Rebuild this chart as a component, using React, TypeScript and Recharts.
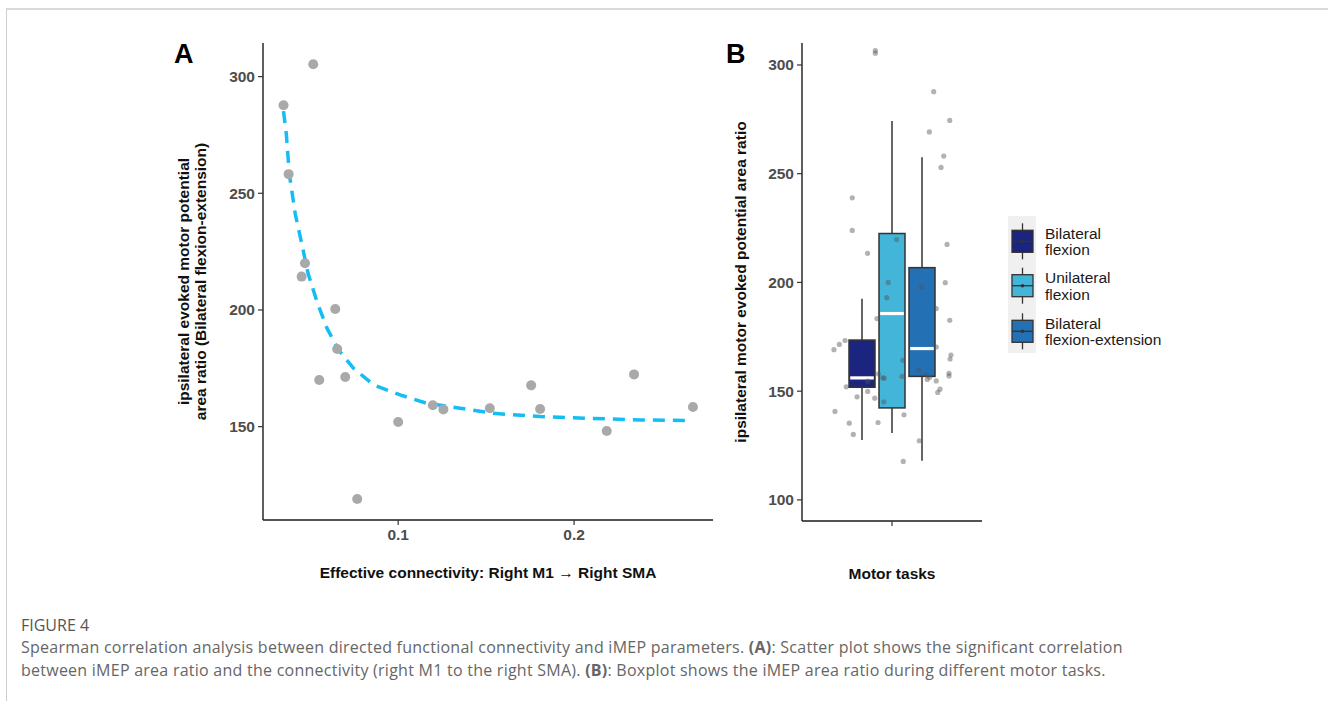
import React from 'react';
import { ScatterChart, ComposedChart, Scatter, Bar, XAxis, YAxis, Label } from 'recharts';

// panel A: connectivity vs iMEP area ratio (bilateral flexion-extension)
const connectivity = [0.0348, 0.0517, 0.0377, 0.047, 0.0451, 0.0642, 0.0653, 0.0551, 0.0699, 0.0767, 0.1, 0.1197, 0.1257, 0.1521, 0.1756, 0.1807, 0.2186, 0.2341, 0.2676];
const areaRatio = [287.7, 305.3, 258.2, 220.0, 214.3, 200.4, 183.3, 170.0, 171.3, 119.0, 152.0, 159.2, 157.4, 157.9, 167.7, 157.6, 148.1, 172.4, 158.4];

// fitted curve
const fitX = [0.0348, 0.0364, 0.0381, 0.0415, 0.0453, 0.0487, 0.0538, 0.0595, 0.0661, 0.0746, 0.086, 0.1011, 0.1163, 0.1352, 0.154, 0.1807, 0.2072, 0.2375, 0.267];
const fitY = [285.2, 275.2, 258.2, 241.0, 228.0, 215.8, 203.6, 192.2, 182.9, 175.0, 167.9, 163.6, 160.0, 157.9, 155.7, 154.3, 153.6, 152.9, 152.6];

const xTicksA = [0.1, 0.2];
const yTicksA = [150, 200, 250, 300];

// panel B: boxplots per motor task
const tasks = ['Bilateral flexion', 'Unilateral flexion', 'Bilateral flexion-extension'];
const taskLines = [['Bilateral', 'flexion'], ['Unilateral', 'flexion'], ['Bilateral', 'flexion-extension']];
const taskColors = ['#1b247e', '#43b5d9', '#2370b4'];
const whiskerLow = [127.5, 130.8, 118.0];
const q1 = [151.8, 142.3, 156.8];
const median = [156.1, 185.7, 169.6];
const q3 = [173.5, 222.5, 206.8];
const whiskerHigh = [192.5, 274.2, 257.6];

// jittered raw points (x in axis units, category centre = 1)
const jitterX = [0.889, 0.889, 1.278, 1.385, 1.249, 1.345, 1.327, 0.735, 0.735, 1.031, 1.367, 0.837, 0.975, 1.198, 1.355, 0.965, 1.295, 0.9, 1.385, 0.687, 0.649, 0.613, 1.295, 1.073, 1.393, 1.387, 0.909, 0.938, 0.949, 1.067, 1.178, 1.229, 1.235, 1.251, 1.295, 1.38, 1.38, 0.838, 0.695, 1.32, 1.305, 0.838, 0.767, 0.885, 0.945, 0.62, 1.08, 0.715, 0.907, 0.742, 1.182, 1.075];
const jitterY = [306.6, 305.4, 287.7, 274.5, 269.2, 258.1, 252.9, 238.9, 223.9, 219.7, 217.5, 213.4, 200.0, 198.0, 199.9, 193.0, 188.0, 183.4, 182.6, 173.3, 171.5, 169.1, 170.3, 164.2, 166.6, 164.8, 158.0, 156.1, 156.0, 156.8, 159.7, 157.5, 155.4, 156.4, 154.7, 158.2, 157.0, 154.6, 152.0, 150.9, 149.4, 149.9, 147.4, 146.8, 145.1, 140.7, 139.1, 135.3, 135.6, 130.1, 127.2, 117.7];

const yTicksB = [100, 150, 200, 250, 300];

const FONT = '"Liberation Sans", Arial, Helvetica, sans-serif';

const scatterData = connectivity.map((x, i) => ({ x, y: areaRatio[i] }));
const fitData = fitX.map((x, i) => ({ x, y: fitY[i] }));
const jitterData = jitterX.map((x, i) => ({ x, y: jitterY[i] }));
const boxRow: Record<string, any> = { task: 'Motor tasks' };
tasks.forEach((_, i) => {
  boxRow['r' + i] = [whiskerLow[i], whiskerHigh[i]];
});

const tickStyle = { fill: '#4d4d4d', fontSize: 15.5, fontWeight: 'bold', fontFamily: FONT };
const axisLine = { stroke: '#1a1a1a', strokeWidth: 1.4 };
const tickLine = { stroke: '#333', strokeWidth: 1.2 };

const makeBox = (i: number) => (props: any) => {
  const { x, y, width, height } = props;
  const top = Math.min(y, y + height);
  const h = Math.abs(height);
  const lo = whiskerLow[i];
  const hi = whiskerHigh[i];
  const py = (v: number) => top + ((hi - v) / (hi - lo)) * h;
  const cx = x + width / 2;
  return (
    <g>
      <line x1={cx} x2={cx} y1={py(hi)} y2={py(q3[i])} stroke="#333" strokeWidth={1.5} />
      <line x1={cx} x2={cx} y1={py(q1[i])} y2={py(lo)} stroke="#333" strokeWidth={1.5} />
      <rect x={x} y={py(q3[i])} width={width} height={py(q1[i]) - py(q3[i])} fill={taskColors[i]} stroke="#333" strokeWidth={1.5} />
      <line x1={x + 1.2} x2={x + width - 1.2} y1={py(median[i])} y2={py(median[i])} stroke="#fff" strokeWidth={3.2} />
    </g>
  );
};

// xs are in the chart's own svg coordinates
const rotatedTitle = (lines: string[], xs: number[]) => (props: any) => {
  const vb = props.viewBox;
  const cy = vb.y + vb.height / 2;
  return (
    <g>
      {lines.map((t, k) => (
        <text key={k} x={xs[k]} y={cy} transform={`rotate(-90 ${xs[k]} ${cy})`} textAnchor="middle" dominantBaseline="central"
          fontFamily={FONT} fontSize={15.5} fontWeight="bold" fill="#111">{t}</text>
      ))}
    </g>
  );
};

function BoxLegend() {
  const centers = [241.3, 285.7, 331.3];
  return (
    <svg width={200} height={150} style={{ position: 'absolute', left: 1005, top: 212 }}>
      <rect x={3} y={4} width={28} height={137} fill="#f0f0f0" />
      {tasks.map((name, i) => {
        const c = centers[i] - 212;
        return (
          <g key={name}>
            <line x1={17.5} x2={17.5} y1={c - 18} y2={c + 18} stroke="#333" strokeWidth={1.3} />
            <rect x={7} y={c - 11} width={21} height={22} fill={taskColors[i]} stroke="#333" strokeWidth={1.3} />
            <line x1={7} x2={28} y1={c} y2={c} stroke="#333" strokeWidth={1.3} />
            <circle cx={17.5} cy={c} r={1.8} fill="#333" />
            <text x={40} y={c - 2.5} fontFamily={FONT} fontSize={15.5} fill="#1a1a1a">{taskLines[i][0]}</text>
            <text x={40} y={c + 14} fontFamily={FONT} fontSize={15.5} fill="#1a1a1a">{taskLines[i][1]}</text>
          </g>
        );
      })}
    </svg>
  );
}

export default function App() {
  return (
    <div style={{ position: 'absolute', left: 0, top: 0, width: 1328, height: 701, background: '#fff', overflow: 'hidden' }}>
      <div style={{ position: 'absolute', left: 6, top: 8, width: 1322, height: 693, borderTop: '2px solid #d9d9d9', borderLeft: '1px solid #cfcfcf' }} />

      <div style={{ position: 'absolute', left: 174, top: 41, fontFamily: FONT, fontWeight: 'bold', fontSize: 27, lineHeight: 1 }}>A</div>
      <div style={{ position: 'absolute', left: 726, top: 41, fontFamily: FONT, fontWeight: 'bold', fontSize: 27, lineHeight: 1 }}>B</div>

      <div style={{ position: 'absolute', left: 160, top: 0 }}>
        <ScatterChart width={570} height={600} margin={{ top: 43, right: 17, bottom: 20, left: 0 }}>
          <XAxis type="number" dataKey="x" domain={[0.02313, 0.279]} ticks={xTicksA} allowDataOverflow
            tick={tickStyle} axisLine={axisLine} tickLine={tickLine} tickSize={5} tickMargin={4} height={60}>
            <Label value="Effective connectivity: Right M1 → Right SMA" position="insideBottom" offset={2}
              style={{ fontFamily: FONT, fontSize: 15.5, fontWeight: 'bold', fill: '#111' }} />
          </XAxis>
          <YAxis type="number" dataKey="y" domain={[110, 314.4]} ticks={yTicksA} allowDataOverflow width={103}
            tick={tickStyle} axisLine={axisLine} tickLine={tickLine} tickSize={5} tickMargin={3}
            label={{ content: rotatedTitle(['ipsilateral evoked motor potential', 'area ratio (Bilateral flexion-extension)'], [23, 40]) } as any} />
          <Scatter data={fitData} isAnimationActive={false} lineType="joint"
            line={{ stroke: '#14bdf4', strokeWidth: 3.5, strokeDasharray: '12 8' }}
            shape={() => <g />} />
          <Scatter data={scatterData} isAnimationActive={false}
            shape={(p: any) => <circle cx={p.cx} cy={p.cy} r={5} fill="#a9a9a9" />} />
        </ScatterChart>
      </div>

      <div style={{ position: 'absolute', left: 720, top: 0 }}>
        <ComposedChart width={470} height={600} data={[boxRow]} barGap={4} margin={{ top: 43, right: 208, bottom: 19, left: 0 }}>
          <XAxis dataKey="task" tickFormatter={() => ''} axisLine={axisLine} tickLine={tickLine} tickSize={5} height={60}>
            <Label value="Motor tasks" position="insideBottom" offset={2}
              style={{ fontFamily: FONT, fontSize: 15.5, fontWeight: 'bold', fill: '#111' }} />
          </XAxis>
          <XAxis xAxisId="jit" type="number" dataKey="x" domain={[0.4, 1.6]} hide allowDataOverflow />
          <YAxis type="number" domain={[90.3, 310.1]} ticks={yTicksB} allowDataOverflow width={82}
            tick={tickStyle} axisLine={axisLine} tickLine={tickLine} tickSize={5} tickMargin={3}
            label={{ content: rotatedTitle(['ipsilateral motor evoked potential area ratio'], [20]) } as any} />
          {tasks.map((name, i) => (
            <Bar key={name} name={name} dataKey={'r' + i} barSize={26} fill={taskColors[i]} isAnimationActive={false} shape={makeBox(i)} />
          ))}
          <Scatter xAxisId="jit" dataKey="y" data={jitterData} isAnimationActive={false}
            shape={(p: any) => <circle cx={p.cx} cy={p.cy} r={2.6} fill="#555" fillOpacity={0.45} />} />
        </ComposedChart>
      </div>

      <BoxLegend />

      <div style={{ position: 'absolute', left: 21, top: 614, fontFamily: '"Open Sans", sans-serif', color: '#555', fontSize: 16, lineHeight: '22px' }}>
        FIGURE 4
      </div>
      <div style={{ position: 'absolute', left: 21, top: 636, fontFamily: '"Open Sans", sans-serif', color: '#666', fontSize: 16, letterSpacing: '0.25px', lineHeight: '23px', width: 1300, whiteSpace: 'nowrap' }}>
        Spearman correlation analysis between directed functional connectivity and iMEP parameters. <b>(A)</b>: Scatter plot shows the significant correlation<br />
        between iMEP area ratio and the connectivity (right M1 to the right SMA). <b>(B)</b>: Boxplot shows the iMEP area ratio during different motor tasks.
      </div>
    </div>
  );
}
